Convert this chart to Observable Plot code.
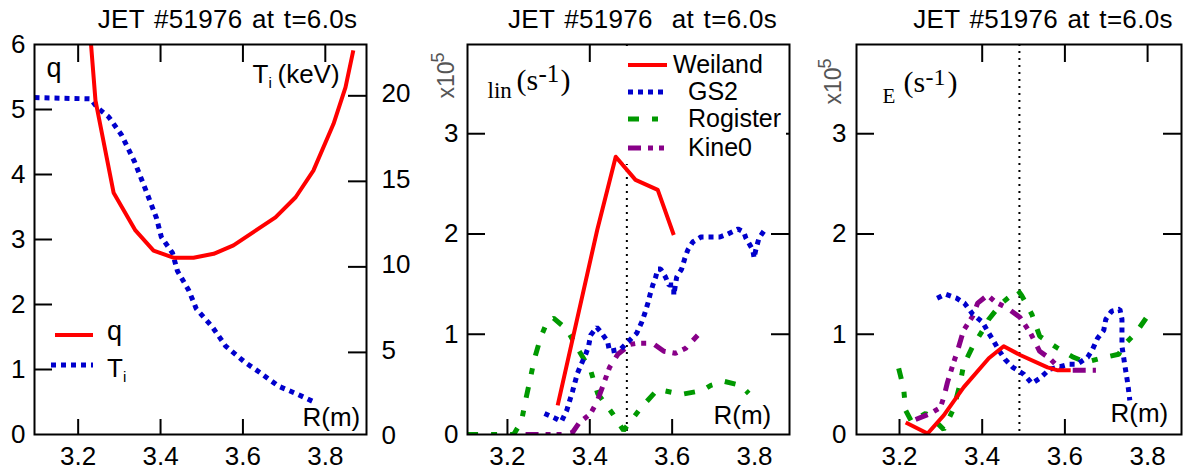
<!DOCTYPE html>
<html>
<head>
<meta charset="utf-8">
<script src="https://cdn.jsdelivr.net/npm/d3@7"></script>
<script src="https://cdn.jsdelivr.net/npm/@observablehq/plot@0.6"></script>
<style>
  body { margin: 0; background: #fff; }
  #wrap { position: relative; width: 1190px; height: 474px; overflow: hidden; background: #fff; }
  svg text { white-space: pre; }
</style>
</head>
<body>
<div id="wrap"></div>
<script>
// ---------------- DATA ----------------
const titles = ["JET #51976 at t=6.0s", "JET #51976  at t=6.0s", "JET #51976 at t=6.0s"];
const xTickLabels = [3.2, 3.4, 3.6, 3.8];
const qTicks = [0, 1, 2, 3, 4, 5, 6];
const tiTicks = [0, 5, 10, 15, 20];
const gammaTicks = [0, 1, 2, 3];
const tiRange = [0.2, 23.0];   // right axis extent
const qRange = [0, 6];
const gammaRange = [0, 3.89];
const rShear = 3.49;           // dotted vertical line position

// panel 1: safety factor q and ion temperature Ti
const qR = [3.230, 3.242, 3.286, 3.339, 3.383, 3.431, 3.480, 3.529, 3.577, 3.679, 3.728, 3.771, 3.820, 3.849, 3.868];
const qV = [6.10, 5.14, 3.72, 3.14, 2.83, 2.72, 2.72, 2.78, 2.91, 3.34, 3.65, 4.06, 4.78, 5.34, 5.91];
const tiR = [3.094, 3.230, 3.247, 3.274, 3.305, 3.337, 3.363, 3.390, 3.402, 3.429, 3.441, 3.468, 3.487, 3.526, 3.558, 3.604, 3.643, 3.686, 3.732, 3.778];
const tiV = [19.90, 19.82, 19.30, 18.77, 17.72, 16.14, 14.56, 12.86, 11.74, 10.81, 9.76, 8.65, 7.54, 6.48, 5.37, 4.44, 3.79, 3.03, 2.56, 2.04];

// panel 2: linear growth rates (x1e5 s^-1)
const weilandLinR = [3.322, 3.418, 3.463, 3.511, 3.565, 3.604];
const weilandLinV = [0.29, 2.04, 2.77, 2.54, 2.44, 1.99];
const gs2LinR = [3.290, 3.317, 3.331, 3.344, 3.358, 3.370, 3.378, 3.390, 3.397, 3.402, 3.417, 3.429, 3.443, 3.448, 3.475, 3.494, 3.514, 3.526, 3.533, 3.541, 3.546, 3.553, 3.560, 3.565, 3.572, 3.584, 3.592, 3.604, 3.604, 3.611, 3.623, 3.631, 3.638, 3.650, 3.670, 3.716, 3.735, 3.760, 3.774, 3.779, 3.796, 3.799, 3.803, 3.811, 3.823];
const gs2LinV = [0.21, 0.16, 0.13, 0.24, 0.43, 0.61, 0.69, 0.80, 0.88, 0.99, 1.07, 1.01, 0.93, 0.83, 0.85, 0.93, 1.01, 1.12, 1.20, 1.31, 1.39, 1.49, 1.57, 1.65, 1.65, 1.57, 1.49, 1.49, 1.39, 1.57, 1.65, 1.76, 1.84, 1.92, 1.97, 1.97, 2.00, 2.05, 2.02, 1.96, 1.84, 1.76, 1.84, 1.96, 2.03];
const rogisterLinR = [3.102, 3.215, 3.234, 3.244, 3.254, 3.266, 3.280, 3.297, 3.312, 3.344, 3.370, 3.402, 3.419, 3.455, 3.482, 3.525, 3.565, 3.623, 3.674, 3.694, 3.726, 3.767, 3.786];
const rogisterLinV = [0, 0, 0.13, 0.34, 0.53, 0.76, 0.96, 1.13, 1.16, 1.05, 0.86, 0.64, 0.41, 0.21, 0.04, 0.27, 0.45, 0.40, 0.44, 0.49, 0.53, 0.49, 0.41];
const kine0LinR = [3.244, 3.336, 3.358, 3.373, 3.402, 3.417, 3.434, 3.448, 3.468, 3.499, 3.516, 3.553, 3.580, 3.608, 3.633, 3.662];
const kine0LinV = [0, 0, 0.02, 0.11, 0.21, 0.32, 0.51, 0.67, 0.80, 0.90, 0.91, 0.91, 0.83, 0.81, 0.86, 0.99];

// panel 3: ExB shearing rates (x1e5 s^-1)
const weilandER = [3.215, 3.268, 3.307, 3.355, 3.416, 3.452, 3.493, 3.558, 3.583, 3.614];
const weilandEV = [0.12, 0.01, 0.19, 0.47, 0.76, 0.88, 0.79, 0.67, 0.64, 0.64];
const gs2ER = [3.291, 3.311, 3.338, 3.357, 3.377, 3.401, 3.416, 3.428, 3.442, 3.455, 3.474, 3.501, 3.520, 3.539, 3.563, 3.583, 3.609, 3.629, 3.655, 3.667, 3.679, 3.694, 3.699, 3.713, 3.733, 3.738, 3.738, 3.745, 3.752, 3.757];
const gs2EV = [1.36, 1.40, 1.36, 1.31, 1.20, 1.12, 1.01, 0.93, 0.83, 0.75, 0.67, 0.60, 0.51, 0.56, 0.65, 0.67, 0.70, 0.70, 0.77, 0.85, 0.96, 1.04, 1.15, 1.23, 1.25, 1.15, 0.88, 0.69, 0.51, 0.34];
const kine0ER = [3.239, 3.275, 3.299, 3.307, 3.316, 3.331, 3.340, 3.355, 3.377, 3.389, 3.413, 3.432, 3.461, 3.491, 3.517, 3.539, 3.563, 3.585, 3.607, 3.648, 3.675];
const kine0EV = [0.15, 0.21, 0.27, 0.37, 0.52, 0.72, 0.83, 1.04, 1.18, 1.31, 1.39, 1.32, 1.26, 1.17, 1.01, 0.83, 0.76, 0.67, 0.64, 0.64, 0.64];
const rogisterER = [3.198, 3.210, 3.215, 3.229, 3.263, 3.280, 3.307, 3.331, 3.345, 3.355, 3.377, 3.406, 3.416, 3.447, 3.486, 3.495, 3.520, 3.539, 3.583, 3.621, 3.650, 3.687, 3.730, 3.747, 3.771, 3.808];
const rogisterEV = [0.66, 0.46, 0.24, 0.13, 0.21, 0.16, 0.05, 0.26, 0.48, 0.69, 0.88, 1.07, 1.15, 1.31, 1.44, 1.39, 1.20, 0.98, 0.86, 0.77, 0.72, 0.76, 0.80, 0.91, 1.01, 1.23];

const legendNames = ["Weiland", "GS2", "Rogister", "Kine0"];

// ---------------- STYLES ----------------
const FONT = "Liberation Sans, Arial, Helvetica, sans-serif";
const SERIF = "Liberation Serif, Times New Roman, serif";
const RED = "#ff0000", BLUE = "#0000cc", GREEN = "#009900", PURPLE = "#880088";
const styles = {
  Weiland: {stroke: RED, strokeWidth: 4, strokeDasharray: null, strokeLinecap: "butt"},
  GS2: {stroke: BLUE, strokeWidth: 5, strokeDasharray: "5,5", strokeLinecap: "butt", strokeLinejoin: "miter"},
  Rogister: {stroke: GREEN, strokeWidth: 5, strokeDasharray: "11,13,6,13", strokeLinecap: "butt", strokeLinejoin: "miter"},
  Kine0: {stroke: PURPLE, strokeWidth: 5, strokeDasharray: "13,7,5,6,5,9", strokeLinecap: "butt", strokeLinejoin: "miter"}
};
const H = 474, MT = 44, MB = 40, FH = H - MT - MB;
const TICKFS = 26;
const wrap = document.getElementById("wrap");

function ticksFrame(W, bottom, top, left, right) {
  return [
    Plot.tickX(bottom, {x: d => d, insetTop: FH - 15, strokeWidth: 2}),
    Plot.tickX(top, {x: d => d, insetBottom: FH - 18, strokeWidth: 2}),
    Plot.tickY(left, {y: d => d, insetRight: W - 18, strokeWidth: 2}),
    Plot.tickY(right, {y: d => d, insetLeft: W - 18, strokeWidth: 2})
  ];
}
function label(text, dx, dy, size, family = FONT, extra = {}) {
  return Plot.text([text], {text: d => d, frameAnchor: "top-left", textAnchor: "start", lineAnchor: "bottom",
    dx, dy, fontSize: size, fontFamily: family, fill: "black", ...extra});
}
function title(text, dx) {
  return Plot.text([text], {text: d => d, frameAnchor: "top", lineAnchor: "bottom", dx, dy: -17,
    fontSize: 26, fontFamily: FONT, fill: "black"});
}
function xAxisLabels() {
  return Plot.axisX({ticks: xTickLabels, anchor: "bottom", tickSize: 0, tickPadding: 12, fontSize: TICKFS,
    fontFamily: FONT, tickFormat: d3.format(".1f"), label: null});
}
function curve(R, V, name, extra = {}) {
  return Plot.line(V, {x: R, y: V, curve: "linear", clip: true, ...styles[name], ...extra});
}
function mount(svg, left) {
  svg.style.position = "absolute";
  svg.style.left = left + "px";
  svg.style.top = "0px";
  svg.style.overflow = "visible";
  d3.select(svg).selectAll("text").filter(function () { return this.textContent.startsWith("JET"); })
    .style("letter-spacing", "0.3px").style("word-spacing", "2px");
  wrap.appendChild(svg);
}
const baseStyle = {fontFamily: FONT, background: "transparent", color: "black"};

// ---------------- PANEL 1 ----------------
{
  const W = 332;
  const toQ = t => (t - tiRange[0]) / (tiRange[1] - tiRange[0]) * (qRange[1] - qRange[0]);
  const svg = Plot.plot({
    width: 400, height: H, marginLeft: 34, marginRight: 34, marginTop: MT, marginBottom: MB,
    x: {domain: [3.094, 3.9], axis: null}, y: {domain: qRange, axis: null},
    style: baseStyle,
    marks: [
      curve(tiR, tiV.map(toQ), "GS2"),
      curve(qR, qV, "Weiland"),
      Plot.frame({strokeWidth: 2}),
      ...ticksFrame(W, [3.2, 3.4, 3.6], [3.2, 3.4, 3.6, 3.8], [1, 2, 3, 4, 5], [5, 10, 15, 20].map(toQ)),
      xAxisLabels(),
      Plot.axisY({ticks: qTicks, anchor: "left", tickSize: 0, tickPadding: 9, fontSize: TICKFS, fontFamily: FONT, tickFormat: d3.format("d"), label: null}),
      Plot.axisY({ticks: tiTicks.map(toQ), anchor: "right", tickSize: 0, tickPadding: 15, fontSize: TICKFS, fontFamily: FONT, dy: -2,
        tickFormat: v => String(Math.round(v / (qRange[1] - qRange[0]) * (tiRange[1] - tiRange[0]) + tiRange[0])), label: null}),
      title(titles[0], 27),
      label("q", 12, 32, 27),
      label("T", 218, 38, 26),
      label("i", 234, 43, 15),
      label("(keV)", 243, 38, 26),
      label("R(m)", 268, 381, 26)
    ]
  });
  mount(svg, 0);
}

// ---------------- PANEL 2 ----------------
{
  const W = 322;
  const svg = Plot.plot({
    width: 400, height: H, marginLeft: 67, marginRight: 11, marginTop: MT, marginBottom: MB,
    x: {domain: [3.103, 3.885], axis: null}, y: {domain: gammaRange, axis: null},
    style: baseStyle,
    marks: [
      Plot.ruleX([rShear], {strokeDasharray: "2,5", strokeWidth: 2}),
      curve(rogisterLinR, rogisterLinV, "Rogister"),
      curve(kine0LinR, kine0LinV, "Kine0"),
      curve(gs2LinR, gs2LinV, "GS2"),
      curve(weilandLinR, weilandLinV, "Weiland"),
      Plot.frame({strokeWidth: 2}),
      ...ticksFrame(W, [3.2, 3.4, 3.6], [3.4], [1, 2, 3], [1, 2, 3]),
      xAxisLabels(),
      Plot.axisY({ticks: gammaTicks, anchor: "left", tickSize: 0, tickPadding: 9, fontSize: TICKFS, fontFamily: FONT, tickFormat: d3.format("d"), label: null}),
      title(titles[1], 14),
      label("x10", -14, 54, 23, FONT, {rotate: -90, fill: "#555"}),
      label("5", -24, 18, 18, FONT, {rotate: -90, fill: "#555"}),
      label("lin", 20, 53, 23, SERIF),
      label("(s", 49, 45, 30, SERIF),
      label("-1", 71, 37, 25, SERIF),
      label(")", 93, 45, 30, SERIF),
      label("R(m)", 246, 379, 26)
    ]
  });
  mount(svg, 400);
}

// ---------------- PANEL 3 ----------------
{
  const W = 325;
  const svg = Plot.plot({
    width: 390, height: H, marginLeft: 56, marginRight: 9, marginTop: MT, marginBottom: MB,
    x: {domain: [3.096, 3.882], axis: null}, y: {domain: gammaRange, axis: null},
    style: baseStyle,
    marks: [
      Plot.ruleX([rShear], {strokeDasharray: "2,5", strokeWidth: 2}),
      curve(rogisterER, rogisterEV, "Rogister"),
      curve(kine0ER, kine0EV, "Kine0"),
      curve(gs2ER, gs2EV, "GS2"),
      curve(weilandER, weilandEV, "Weiland"),
      Plot.frame({strokeWidth: 2}),
      ...ticksFrame(W, [3.2, 3.4, 3.6], [3.4, 3.6, 3.8], [1, 2, 3], [1, 2, 3]),
      xAxisLabels(),
      Plot.axisY({ticks: gammaTicks, anchor: "left", tickSize: 0, tickPadding: 10, fontSize: TICKFS, fontFamily: FONT, tickFormat: d3.format("d"), label: null}),
      title(titles[2], 24),
      label("x10", -16, 60, 23, FONT, {rotate: -90, fill: "#555"}),
      label("5", -26, 24, 18, FONT, {rotate: -90, fill: "#555"}),
      label("E", 26, 58, 21, SERIF),
      label("(s", 47, 47, 30, SERIF),
      label("-1", 69, 40, 24, SERIF),
      label(")", 91, 47, 30, SERIF),
      label("R(m)", 254, 377, 26)
    ]
  });
  mount(svg, 800);
}

// ---------------- LEGENDS (overlay) ----------------
{
  const ov = d3.create("svg").attr("width", 1190).attr("height", 474)
    .style("position", "absolute").style("left", "0px").style("top", "0px")
    .attr("font-family", FONT);
  const applyStyle = (sel, st) => sel.attr("stroke", st.stroke).attr("stroke-width", st.strokeWidth)
    .attr("stroke-dasharray", st.strokeDasharray).attr("stroke-linecap", "butt").attr("fill", "none");

  // panel 1 legend
  const g1 = ov.append("g");
  applyStyle(g1.append("line").attr("x1", 55).attr("x2", 93).attr("y1", 335).attr("y2", 335), styles.Weiland);
  applyStyle(g1.append("line").attr("x1", 51).attr("x2", 93).attr("y1", 365).attr("y2", 365), styles.GS2);
  g1.append("text").attr("x", 107).attr("y", 340).attr("font-size", 27).text("q");
  g1.append("text").attr("x", 107).attr("y", 377).attr("font-size", 26).text("T");
  g1.append("text").attr("x", 123).attr("y", 382).attr("font-size", 15).text("i");

  // panel 2 legend
  const g2 = ov.append("g");
  g2.append("rect").attr("x", 624).attr("y", 46).attr("width", 162).attr("height", 118).attr("fill", "white");
  const rowsY = [65, 92, 119, 148];
  const textX = [673, 688, 688, 688];
  legendNames.forEach((name, i) => {
    applyStyle(g2.append("line").attr("x1", 628).attr("x2", 667).attr("y1", rowsY[i]).attr("y2", rowsY[i]), styles[name]);
    g2.append("text").attr("x", textX[i]).attr("y", rowsY[i] + 8).attr("font-size", 25).text(name);
  });
  wrap.appendChild(ov.node());
}
</script>
</body>
</html>
